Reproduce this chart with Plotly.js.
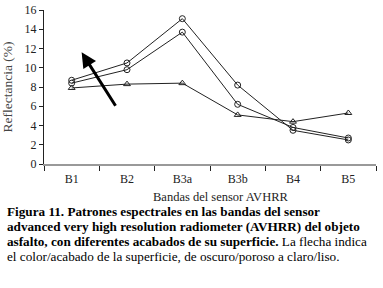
<!DOCTYPE html>
<html><head><meta charset="utf-8">
<script src="https://cdn.plot.ly/plotly-3.0.1.min.js"></script>
<style>body{margin:0;padding:0;background:#fff}#c{width:383px;height:288px}</style>
</head><body><div id="c"></div>
<script>
const bands = ["B1","B2","B3a","B3b","B4","B5"];
const serie1 = [8.7, 10.5, 15.1, 8.2, 3.5, 2.5];
const serie2 = [8.4, 9.8, 13.7, 6.2, 3.8, 2.7];
const serie3 = [7.9, 8.3, 8.4, 5.1, 4.4, 5.3];
const yTicks = [0,2,4,6,8,10,12,14,16];

const serif = "Liberation Serif";
const mk = (y, sym) => ({
  x: bands, y: y, type: "scatter", mode: "lines+markers",
  line: {color: "#222", width: 1},
  marker: {symbol: sym, size: 6, color: "#222", line: {color: "#222", width: 1}},
  cliponaxis: false, showlegend: false
});
const data = [mk(serie1, "circle-open"), mk(serie2, "circle-open"), mk(serie3, "triangle-up-open")];

const capFont = {family: serif, size: 13.2, color: "#000"};
const capLines = [
  "<b>Figura 11. Patrones espectrales en las bandas del sensor</b>",
  "<b>advanced very high resolution radiometer (AVHRR) del objeto</b>",
  "<b>asfalto, con diferentes acabados de su superficie.</b> La flecha indica",
  "el color/acabado de la superficie, de oscuro/poroso a claro/liso."
];
const annotations = capLines.map((t, i) => ({
  text: t, xref: "paper", yref: "paper", x: -39/332, y: 0, yshift: -(47 + i*15),
  xanchor: "left", yanchor: "middle", showarrow: false, font: capFont
}));
annotations.push({
  text: "Bandas del sensor AVHRR", xref: "paper", yref: "paper", x: 177/332, y: 0, yshift: -33,
  xanchor: "center", yanchor: "middle", showarrow: false,
  font: {family: serif, size: 12.5, color: "#222"}
});
annotations.push({
  x: 0.18, y: 11.6, ax: 0.81, ay: 5.9, xref: "x", yref: "y", axref: "x", ayref: "y",
  text: "", showarrow: true, arrowhead: 2, arrowsize: 1, arrowwidth: 3, arrowcolor: "#000"
});

const layout = {
  width: 383, height: 288,
  margin: {l: 44, r: 7, t: 10, b: 124},
  paper_bgcolor: "#fff", plot_bgcolor: "#fff",
  font: {family: serif, size: 12, color: "#222"},
  xaxis: {
    type: "category", range: [-0.5, 5.5], showgrid: false, zeroline: false,
    showline: true, linecolor: "#999", linewidth: 2,
    ticks: "outside", tickson: "boundaries", ticklen: 5, tickcolor: "#222",
    ticklabelstandoff: 3,
    tickfont: {family: serif, size: 12, color: "#222"}
  },
  yaxis: {
    range: [0, 16], tickvals: yTicks, showgrid: false, zeroline: false,
    showline: true, linecolor: "#222", linewidth: 1,
    ticks: "outside", ticklen: 4, tickcolor: "#222",
    tickfont: {family: serif, size: 12, color: "#222"},
    title: {text: "Reflectancia (%)", font: {family: serif, size: 13.5, color: "#444"}, standoff: 10}
  },
  annotations: annotations
};
Plotly.newPlot("c", data, layout, {displayModeBar: false, staticPlot: true});
</script></body></html>
